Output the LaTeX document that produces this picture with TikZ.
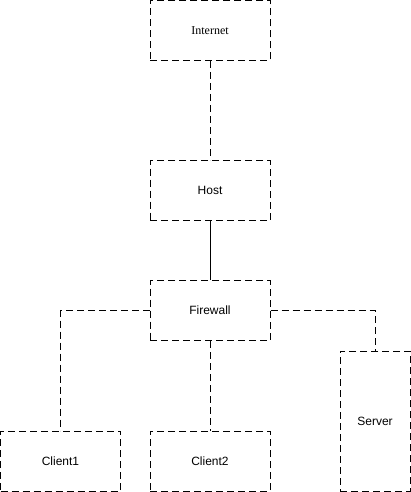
\documentclass[tikz,border=0pt]{standalone}
\usepackage{fontspec}
\setmainfont{Liberation Sans}
\newfontfamily\serifface{Liberation Serif}
\begin{document}
\begin{tikzpicture}[x=1pt,y=-1pt,
  box/.style={draw=black,line width=1pt,dash pattern=on 7pt off 4pt,inner sep=0pt,font=\fontsize{12}{14}\selectfont},
  dline/.style={draw=black,line width=1pt,dash pattern=on 7pt off 4pt},
  sline/.style={draw=black,line width=1pt}]
\useasboundingbox (0,0) rectangle (411,492);
\node[box,minimum width=120pt,minimum height=60pt,font=\fontsize{12}{14}\serifface] (internet) at (210,30.5) {Internet};
\node[box,minimum width=120pt,minimum height=60pt] (host) at (210,190.5) {Host};
\node[box,minimum width=120pt,minimum height=60pt] (fw) at (210,310.5) {Firewall};
\node[box,minimum width=120pt,minimum height=60pt] (c1) at (60.5,461) {Client1};
\node[box,minimum width=120pt,minimum height=60pt] (c2) at (210,461) {Client2};
\node[box,minimum width=70pt,minimum height=140pt] (srv) at (375,421) {Server};
\draw[dline] (internet) -- (host);
\draw[sline] (host) -- (fw);
\draw[dline] (fw.west) -| (c1.north);
\draw[dline] (fw) -- (c2);
\draw[dline] (fw.east) -| (srv.north);
\end{tikzpicture}
\end{document}
